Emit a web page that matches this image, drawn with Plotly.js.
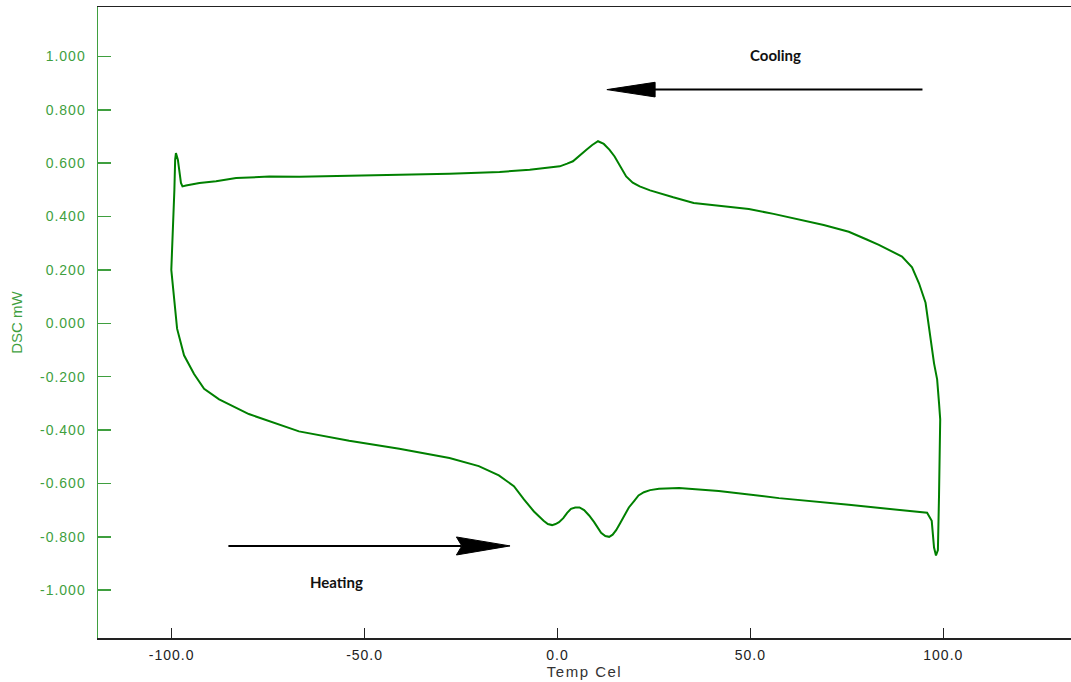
<!DOCTYPE html>
<html>
<head>
<meta charset="utf-8">
<script src="https://cdn.plot.ly/plotly-3.0.1.min.js"></script>
<style>
html,body{margin:0;padding:0;background:#fff;}
#chart{width:1071px;height:682px;}
.xtick text,.ytick text{letter-spacing:1px;}
.g-xtitle text{letter-spacing:1.5px;}
</style>
</head>
<body>
<div id="chart"></div>
<script>
// DSC loop: heating (bottom, left -> right), then cooling (top, right -> left)
var tempCel = [
  -100.1, -99.9, -99.5, -98.6, -96.8, -94.2, -91.6, -87.7, -80.0, -67.0,
  -54.0, -41.0, -28.0, -20.4, -15.2, -11.3, -8.7, -6.1, -3.6, -2.5,
  -1.4, -0.5, 0.4, 1.5, 2.5, 3.5, 4.6, 5.7, 6.9, 8.2,
  9.5, 11.3, 12.4, 13.4, 14.3, 15.2, 16.2, 17.3, 18.5, 19.9,
  21.0, 22.4, 24.0, 26.3, 31.5, 41.8, 57.4, 75.5, 88.5, 95.8,
  97.0, 97.6, 98.1, 98.6, 98.9, 99.2, 98.9, 98.4, 97.6, 96.7,
  95.4, 93.7, 91.9, 89.3, 85.9, 83.3, 80.0, 75.5, 69.0, 62.6,
  56.0, 49.6, 42.0, 35.3, 30.0, 26.4, 24.0, 21.3, 19.5, 17.8,
  16.6, 15.6, 14.8, 13.5, 12.0, 10.5, 9.0, 7.5, 6.0, 4.0,
  2.5, 0.6, -7.2, -15.0, -28.0, -41.0, -54.0, -66.9, -74.7, -80.0,
  -83.3, -88.5, -92.8, -96.3, -97.2, -97.6, -98.0, -98.4, -98.9, -99.1,
  -99.3, -99.7, -100.1
];
var dscMW = [
  0.20, 0.17, 0.09, -0.02, -0.12, -0.19, -0.245, -0.285, -0.34, -0.405,
  -0.44, -0.47, -0.505, -0.535, -0.57, -0.61, -0.66, -0.705, -0.74, -0.752,
  -0.756, -0.752, -0.745, -0.73, -0.71, -0.695, -0.69, -0.69, -0.70, -0.72,
  -0.745, -0.785, -0.797, -0.80, -0.792, -0.775, -0.75, -0.72, -0.69, -0.665,
  -0.645, -0.633, -0.625, -0.62, -0.617, -0.628, -0.655, -0.68, -0.70, -0.71,
  -0.74, -0.84, -0.87, -0.85, -0.64, -0.36, -0.30, -0.21, -0.15, -0.05,
  0.077, 0.15, 0.21, 0.25, 0.275, 0.294, 0.315, 0.343, 0.368, 0.39,
  0.41, 0.428, 0.44, 0.451, 0.472, 0.488, 0.498, 0.513, 0.527, 0.55,
  0.58, 0.607, 0.625, 0.65, 0.672, 0.682, 0.668, 0.65, 0.63, 0.607,
  0.598, 0.588, 0.575, 0.567, 0.56, 0.556, 0.553, 0.549, 0.55, 0.547,
  0.544, 0.532, 0.526, 0.516, 0.513, 0.526, 0.576, 0.613, 0.638, 0.613,
  0.50, 0.35, 0.20
];
var xTickVals = [-100, -50, 0, 50, 100];
var xTickText = ["-100.0", "-50.0", "0.0", "50.0", "100.0"];
var yTickVals = [-1.0, -0.8, -0.6, -0.4, -0.2, 0.0, 0.2, 0.4, 0.6, 0.8, 1.0];
var yTickText = ["-1.000", "-0.800", "-0.600", "-0.400", "-0.200", "0.000", "0.200", "0.400", "0.600", "0.800", "1.000"];
var labelCooling = "Cooling";
var labelHeating = "Heating";

var green = '#3f9f3f';

var trace = {
  x: tempCel, y: dscMW, type: 'scatter', mode: 'lines',
  line: {color: '#008000', width: 2},
  hoverinfo: 'skip', showlegend: false
};

var layout = {
  width: 1071, height: 682,
  margin: {l: 98, r: 0, t: 7, b: 44, pad: 0},
  paper_bgcolor: '#fff', plot_bgcolor: '#fff',
  showlegend: false,
  xaxis: {
    range: [-119.1, 133.1], tickmode: 'array', tickvals: xTickVals, ticktext: xTickText,
    ticks: 'inside', ticklen: 10, tickwidth: 1.5, tickcolor: '#222',
    showline: true, linecolor: '#222', linewidth: 1.5, mirror: true,
    showgrid: false, zeroline: false,
    tickfont: {family: 'Liberation Sans, Arial, sans-serif', size: 14, color: '#222'},
    ticklabelstandoff: 4,
    title: {text: 'Temp Cel', font: {family: 'Liberation Sans, Arial, sans-serif', size: 15, color: '#333'}, standoff: 0}
  },
  yaxis: {
    range: [-1.179, 1.185], tickmode: 'array', tickvals: yTickVals, ticktext: yTickText,
    ticks: 'inside', ticklen: 13, tickwidth: 1.5, tickcolor: green,
    showline: true, linecolor: green, linewidth: 1.5,
    showgrid: false, zeroline: false,
    tickfont: {family: 'Liberation Sans, Arial, sans-serif', size: 14, color: green},
    ticklabelstandoff: 8,
    title: {text: 'DSC mW', font: {family: 'Liberation Sans, Arial, sans-serif', size: 15, color: green}, standoff: 13}
  },
  shapes: [
    {type: 'line', xref: 'x', yref: 'y', x0: 94.6, y0: 0.8755, x1: 24, y1: 0.8755, line: {color: '#000', width: 2}},
    {type: 'path', xref: 'x', yref: 'y', path: 'M 25.3,0.903 L 12.8,0.8755 L 25.3,0.848 Z', fillcolor: '#000', line: {color: '#000', width: 1}},
    {type: 'line', xref: 'x', yref: 'y', x0: -85.3, y0: -0.834, x1: -25, y1: -0.834, line: {color: '#000', width: 2}},
    {type: 'path', xref: 'x', yref: 'y', path: 'M -26.2,-0.8005 L -12.3,-0.834 L -26.2,-0.868 L -24.8,-0.834 Z', fillcolor: '#000', line: {color: '#000', width: 1}}
  ],
  annotations: [
    {x: 56.5, y: 1.004, xref: 'x', yref: 'y', text: labelCooling, showarrow: false,
     font: {family: 'Lato, Open Sans, sans-serif', size: 15, color: '#111', weight: 'bold'}},
    {x: -57.2, y: -0.969, xref: 'x', yref: 'y', text: labelHeating, showarrow: false,
     font: {family: 'Lato, Open Sans, sans-serif', size: 15, color: '#111', weight: 'bold'}}
  ]
};

Plotly.newPlot('chart', [trace], layout, {staticPlot: true, displayModeBar: false});
</script>
</body>
</html>
